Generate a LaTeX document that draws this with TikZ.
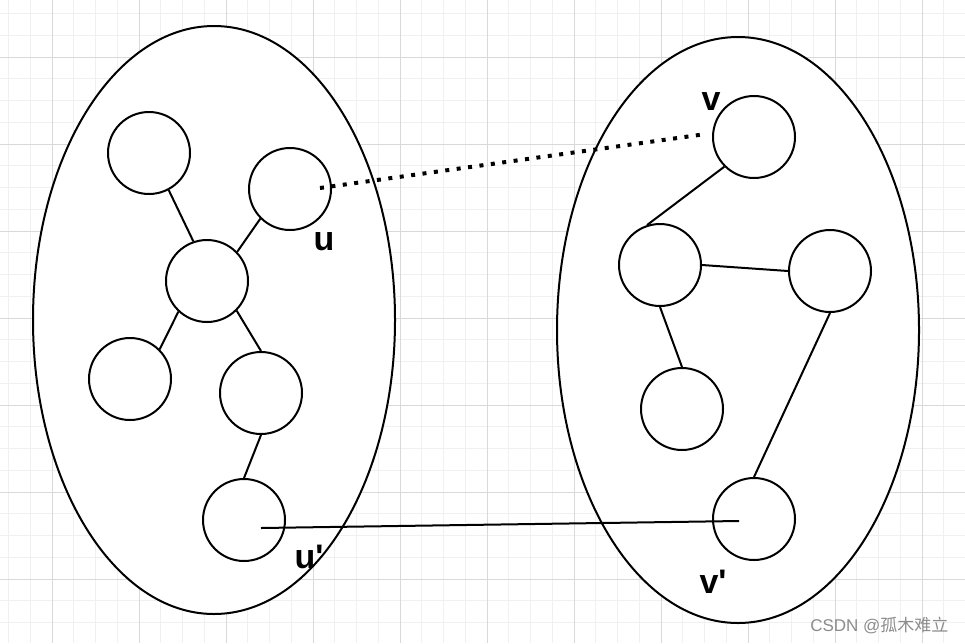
\documentclass[tikz,border=0pt]{standalone}
\usepackage{fontspec}
\setmainfont{Liberation Sans}
\newfontfamily\cjkfont{Noto Sans CJK SC}

\begin{document}
\begin{tikzpicture}[x=1pt,y=-1pt,
		vertex/.style={circle, draw, line width=2pt, minimum size=82pt, inner sep=0pt},
		region/.style={draw, line width=2pt},
		edge/.style={line width=2pt},
		tag/.style={font=\bfseries\fontsize{34}{34}\selectfont}]

		% background with grid
		\useasboundingbox[fill=white] (0,0) rectangle (965,643);
		\foreach \gx in {8.5,30.25,...,965}
			\draw[black!6, line width=0.8pt] (\gx,0) -- (\gx,643);
		\foreach \gy in {13.5,35.25,...,643}
			\draw[black!6, line width=0.8pt] (0,\gy) -- (965,\gy);
		\foreach \gx in {52,139,...,965}
			\draw[black!15, line width=0.8pt] (\gx,0) -- (\gx,643);
		\foreach \gy in {57,144,...,643}
			\draw[black!15, line width=0.8pt] (0,\gy) -- (965,\gy);

		% left set
		\draw[region, fill=white] (214,320) ellipse [x radius=181, y radius=294];
		\node[vertex] (a) at (149,153) {};
		\node[vertex] (b) at (290,189) {};
		\node[vertex] (c) at (207,281) {};
		\node[vertex] (d) at (130,379) {};
		\node[vertex] (e) at (261,393) {};
		\node[vertex] (f) at (244,520) {};
		\draw[edge] (a.298) -- (c.109);
		\draw[edge] (b.225) -- (c.44);
		\draw[edge] (c.227) -- (d.45);
		\draw[edge] (c.315) -- (e.90);
		\draw[edge] (e.270) -- (f.90);

		% right set
		\draw[region, fill=white] (738,330) ellipse [x radius=181, y radius=293];
		\node[vertex] (g) at (754,137) {};
		\node[vertex] (h) at (660,265) {};
		\node[vertex] (i) at (830,271) {};
		\node[vertex] (j) at (682,409) {};
		\node[vertex] (k) at (754,519) {};
		\draw[edge] (g.225) -- (h.108);
		\draw[edge] (h.0) -- (i.180);
		\draw[edge] (h.270) -- (j.90);
		\draw[edge] (i.270) -- (k.90);

		% labels
		\node[tag] (lu) at (324,242) {u};
		\node[tag] (lv) at (711,102) {v};
		\node[tag] (lu2) at (309,557) {u\textquotesingle};
		\node[tag] (lv2) at (713,582) {v\textquotesingle};

		% links between the sets
		\coordinate (bu) at (320,188);
		\coordinate (gv) at (706,134);
		\coordinate (fu) at (261,528);
		\coordinate (kv) at (739,521);
		\draw[line width=4pt, dash pattern=on 4pt off 7.5pt] (bu) -- (gv);
		\draw[edge] (fu) -- (kv);

		% watermark
		\node[text=black!45, font=\fontsize{17}{17}\selectfont, anchor=east] (mark) at (952,625) {CSDN @{\cjkfont 孤木难立}};
	\end{tikzpicture}
\end{document}
